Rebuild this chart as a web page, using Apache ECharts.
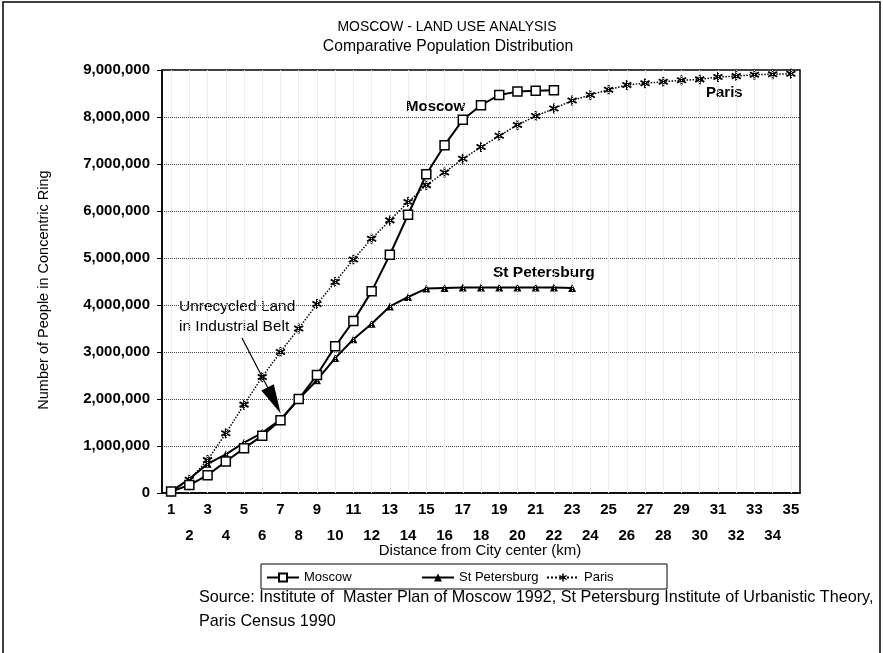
<!DOCTYPE html>
<html><head><meta charset="utf-8">
<script src="https://cdn.jsdelivr.net/npm/echarts@6/dist/echarts.min.js"></script>
<style>html,body{margin:0;padding:0;background:#fff}#c{width:883px;height:653px}</style>
</head><body><div id="c"></div>
<script>
const categories = ['1','2','3','4','5','6','7','8','9','10','11','12','13','14','15','16','17','18','19','20','21','22','23','24','25','26','27','28','29','30','31','32','33','34','35'];
const moscow = [30000,170000,380000,670000,950000,1220000,1550000,2000000,2510000,3120000,3660000,4290000,5070000,5920000,6780000,7400000,7940000,8250000,8470000,8540000,8560000,8570000];
const stPetersburg = [30000,300000,620000,820000,1070000,1280000,1560000,2000000,2400000,2870000,3270000,3600000,3970000,4170000,4350000,4360000,4370000,4370000,4370000,4370000,4370000,4370000,4360000];
const paris = [30000,280000,700000,1270000,1880000,2470000,3000000,3500000,4020000,4490000,4970000,5410000,5800000,6190000,6550000,6820000,7110000,7360000,7600000,7830000,8020000,8180000,8350000,8470000,8580000,8680000,8720000,8750000,8780000,8800000,8850000,8870000,8900000,8910000,8920000];
const yMin = 0, yMax = 9000000, yStep = 1000000;

const F = 'Liberation Sans, Arial, Helvetica, sans-serif';

function asteriskPath() {
  const angles = [90, 30, 150];
  const w = 0.18;
  let d = '';
  angles.forEach(a => {
    const t = a * Math.PI / 180;
    const ux = Math.cos(t), uy = Math.sin(t);
    const px = -uy, py = ux;
    const pts = [
      [ux + px * w, uy + py * w],
      [ux - px * w, uy - py * w],
      [-ux - px * w, -uy - py * w],
      [-ux + px * w, -uy + py * w]
    ].map(p => [(p[0] * 10 + 10).toFixed(2), (p[1] * 10 + 10).toFixed(2)]);
    d += 'M' + pts[0].join(' ') + ' L' + pts[1].join(' ') + ' L' + pts[2].join(' ') + ' L' + pts[3].join(' ') + ' Z ';
  });
  return 'path://' + d.trim();
}

const chart = echarts.init(document.getElementById('c'), null, {renderer: 'canvas'});

const legendCommon = {
  orient: 'horizontal', padding: 0, itemWidth: 32, itemHeight: 10, itemGap: 5,
  textStyle: {fontSize: 13, fontFamily: F, color: '#000'}
};

const option = {
  animation: false,
  backgroundColor: '#fff',
  textStyle: {fontFamily: F},
  grid: {left: 162, right: 83, top: 70, bottom: 160, show: true, borderColor: '#000', borderWidth: 1.5, containLabel: false},
  legend: [
    Object.assign({data: ['Moscow'], left: 266, top: 571}, legendCommon),
    Object.assign({data: ['St Petersburg'], left: 421, top: 571}, legendCommon),
    Object.assign({data: ['Paris'], left: 546, top: 571}, legendCommon)
  ],
  xAxis: {
    type: 'category', data: categories, boundaryGap: true,
    axisLine: {lineStyle: {color: '#000', width: 1.5}},
    axisTick: {alignWithLabel: true, length: 5, lineStyle: {color: '#000', width: 1}},
    axisLabel: {
      interval: 0, color: '#000', fontSize: 15, fontWeight: 'bold', fontFamily: F, margin: 4, lineHeight: 26,
      formatter: (v, i) => (i % 2 === 0 ? v : '\n' + v)
    },
    splitLine: {show: false}
  },
  yAxis: {
    type: 'value', min: yMin, max: yMax, interval: yStep,
    axisLine: {show: true, lineStyle: {color: '#000', width: 1.5}},
    axisTick: {show: true, length: 5, lineStyle: {color: '#000'}},
    axisLabel: {color: '#000', fontSize: 15, fontWeight: 'bold', fontFamily: F, margin: 12, formatter: v => v.toLocaleString('en-US')},
    splitLine: {lineStyle: {type: 'dotted', color: '#444', width: 1}}
  },
  series: [
    {
      name: 'vgrid', type: 'line', data: [], z: 1, silent: true,
      markLine: {
        silent: true, symbol: 'none', animation: false,
        label: {show: false},
        lineStyle: {type: 'dotted', color: '#dcdcdc', width: 1},
        data: categories.map(c => ({xAxis: c}))
      }
    },
    {
      name: 'Paris', type: 'line', data: paris, z: 3,
      symbol: asteriskPath(), symbolSize: 10, showAllSymbol: true,
      lineStyle: {color: '#000', width: 1.5, type: 'dotted'},
      itemStyle: {color: '#000'}
    },
    {
      name: 'St Petersburg', type: 'line', data: stPetersburg, z: 4,
      symbol: 'triangle', symbolSize: 8, showAllSymbol: true,
      lineStyle: {color: '#000', width: 2},
      itemStyle: {color: '#000'}
    },
    {
      name: 'Moscow', type: 'line', data: moscow, z: 5,
      symbol: 'rect', symbolSize: 9, showAllSymbol: true,
      lineStyle: {color: '#000', width: 2},
      itemStyle: {color: '#fff', borderColor: '#000', borderWidth: 1.5}
    }
  ],
  graphic: [
    {type: 'rect', shape: {x: 3, y: 2, width: 877, height: 700}, style: {fill: 'none', stroke: '#000', lineWidth: 1.5}, silent: true, z: 0},
    {type: 'text', x: 447, y: 27, scaleX: 0.9, style: {text: 'MOSCOW - LAND USE ANALYSIS', font: '15.5px ' + F, fill: '#000', align: 'center', verticalAlign: 'middle'}},
    {type: 'text', x: 448, y: 47, style: {text: 'Comparative Population Distribution', font: '15.7px ' + F, fill: '#000', align: 'center', verticalAlign: 'middle'}},
    {type: 'text', x: 44, y: 290, rotation: Math.PI / 2, style: {text: 'Number of People in Concentric Ring', font: '14.5px ' + F, fill: '#000', align: 'center', verticalAlign: 'middle'}},
    {type: 'text', x: 480, y: 551, style: {text: 'Distance from City center (km)', font: '15px ' + F, fill: '#000', align: 'center', verticalAlign: 'middle'}},
    {type: 'rect', shape: {x: 261, y: 564, width: 406, height: 25}, style: {fill: 'none', stroke: '#000', lineWidth: 1}, silent: true},
    {type: 'text', x: 199, y: 598, style: {text: 'Source: Institute of  Master Plan of Moscow 1992, St Petersburg Institute of Urbanistic Theory,', font: '16.2px ' + F, fill: '#000', align: 'left', verticalAlign: 'middle'}},
    {type: 'text', x: 199, y: 622, style: {text: 'Paris Census 1990', font: '16.2px ' + F, fill: '#000', align: 'left', verticalAlign: 'middle'}},
    {type: 'text', x: 406, y: 107, style: {text: 'Moscow', font: 'bold 15px ' + F, fill: '#000', align: 'left', verticalAlign: 'middle'}},
    {type: 'text', x: 706, y: 93, style: {text: 'Paris', font: 'bold 15px ' + F, fill: '#000', align: 'left', verticalAlign: 'middle'}},
    {type: 'text', x: 493, y: 273, style: {text: 'St Petersburg', font: 'bold 15.5px ' + F, fill: '#000', align: 'left', verticalAlign: 'middle'}},
    {type: 'text', x: 179, y: 307, style: {text: 'Unrecycled Land', font: '15.5px ' + F, fill: '#000', align: 'left', verticalAlign: 'middle'}},
    {type: 'text', x: 179, y: 327, style: {text: 'in Industrial Belt', font: '15.5px ' + F, fill: '#000', align: 'left', verticalAlign: 'middle'}},
    {type: 'line', shape: {x1: 242, y1: 338, x2: 270, y2: 392}, style: {stroke: '#000', lineWidth: 1.2}, z: 10},
    {type: 'polygon', shape: {points: [[280.7, 413.5], [261.3, 390.5], [273.8, 384.2]]}, style: {fill: '#000'}, z: 10}
  ]
};
chart.setOption(option);
</script>
</body></html>
